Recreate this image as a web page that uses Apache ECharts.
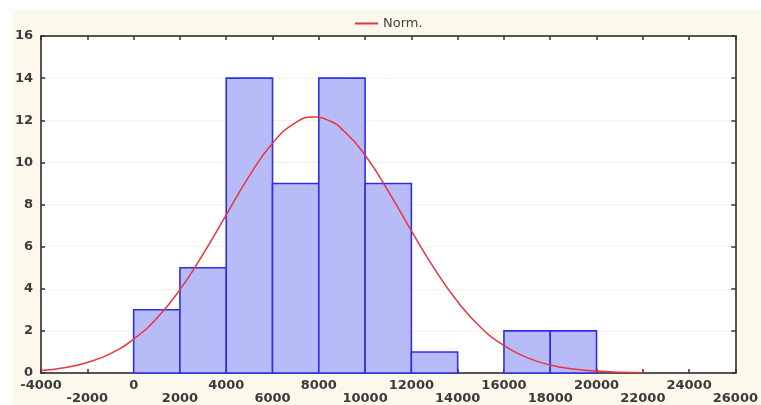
<!DOCTYPE html>
<html>
<head>
<meta charset="utf-8">
<script src="https://cdn.jsdelivr.net/npm/echarts@6/dist/echarts.min.js"></script>
<style>
  html, body { margin: 0; padding: 0; background: #fff; }
  #main { position: absolute; left: 12px; top: 10px; width: 749px; height: 395px; background: #fdf8ec; }
</style>
</head>
<body>
<div id="main"></div>
<script>
// 히스토그램 구간과 빈도
var binStart = [0, 2000, 4000, 6000, 8000, 10000, 12000, 14000, 16000, 18000];
var binEnd = [2000, 4000, 6000, 8000, 10000, 12000, 14000, 16000, 18000, 20000];
var counts = [3, 5, 14, 9, 14, 9, 1, 0, 2, 2];

// 정규곡선
var normX = [-4000, -3000, -2000, -1000, 0, 1000, 2000, 3000, 4000, 5000, 6000, 7000, 7800, 8500,
  9000, 10000, 11000, 12000, 13000, 14000, 15000, 16000, 17000, 18000, 19000, 20000, 21000, 22000];
var normY = [0.12, 0.25, 0.5, 0.92, 1.61, 2.6, 3.96, 5.64, 7.51, 9.36, 10.91, 11.89, 12.15, 11.95,
  11.58, 10.34, 8.64, 6.75, 4.94, 3.38, 2.16, 1.3, 0.73, 0.38, 0.19, 0.09, 0.04, 0.015];

var myChart = echarts.init(document.getElementById('main'));

var labelFont = {
  fontFamily: 'DejaVu Sans',
  fontSize: 13,
  fontWeight: 'bold',
  color: '#3a3a3a'
};

var frameLine = { show: true, onZero: false, lineStyle: { color: '#555', width: 2 } };
var innerTick = { show: true, inside: true, length: 4, lineStyle: { color: '#333', width: 1.5 } };

var histData = binStart.map(function (s, i) {
  return [s, binEnd[i], counts[i]];
});
var normData = normX.map(function (x, i) {
  return [x, normY[i]];
});

var option = {
  animation: false,
  legend: {
    left: 338,
    top: 2,
    icon: 'rect',
    itemWidth: 23,
    itemHeight: 2,
    itemGap: 8,
    textStyle: { fontFamily: 'DejaVu Sans', fontSize: 13, color: '#444' },
    data: ['Norm.']
  },
  grid: {
    left: 28,
    right: 20,
    top: 26,
    bottom: 31,
    show: true,
    backgroundColor: '#fff',
    borderWidth: 0
  },
  xAxis: [
    {
      type: 'value',
      min: -4000,
      max: 26000,
      interval: 2000,
      axisLine: frameLine,
      axisTick: innerTick,
      splitLine: { show: false },
      axisLabel: Object.assign({
        margin: 6,
        lineHeight: 13,
        // 라벨을 두 줄로 엇갈리게 배치
        formatter: function (v) {
          var idx = Math.round((v + 4000) / 2000);
          return idx % 2 ? '\n' + v : String(v);
        }
      }, labelFont)
    },
    {
      type: 'value',
      position: 'top',
      min: -4000,
      max: 26000,
      interval: 2000,
      axisLine: frameLine,
      axisTick: innerTick,
      splitLine: { show: false },
      axisLabel: { show: false }
    }
  ],
  yAxis: [
    {
      type: 'value',
      min: 0,
      max: 16,
      interval: 2,
      axisLine: frameLine,
      axisTick: innerTick,
      splitLine: { show: true, lineStyle: { color: '#f1f1ee', width: 1 } },
      axisLabel: Object.assign({ margin: 8 }, labelFont)
    },
    {
      type: 'value',
      position: 'right',
      min: 0,
      max: 16,
      interval: 2,
      axisLine: frameLine,
      axisTick: innerTick,
      splitLine: { show: false },
      axisLabel: { show: false }
    }
  ],
  series: [
    {
      name: 'hist',
      type: 'custom',
      xAxisIndex: 0,
      yAxisIndex: 0,
      encode: { x: [0, 1], y: 2 },
      data: histData,
      renderItem: function (params, api) {
        if (api.value(2) <= 0) return null;
        var p0 = api.coord([api.value(0), api.value(2)]);
        var p1 = api.coord([api.value(1), 0]);
        return {
          type: 'rect',
          shape: { x: p0[0], y: p0[1], width: p1[0] - p0[0], height: p1[1] - p0[1] },
          style: { fill: '#b7bbf7', stroke: '#2f2fe6', lineWidth: 1.6 }
        };
      },
      z: 2
    },
    {
      name: 'Norm.',
      type: 'line',
      xAxisIndex: 0,
      yAxisIndex: 0,
      smooth: true,
      symbol: 'none',
      data: normData,
      lineStyle: { color: '#e8353c', width: 1.5 },
      itemStyle: { color: '#e8353c' },
      z: 3
    }
  ]
};

myChart.setOption(option);
</script>
</body>
</html>
